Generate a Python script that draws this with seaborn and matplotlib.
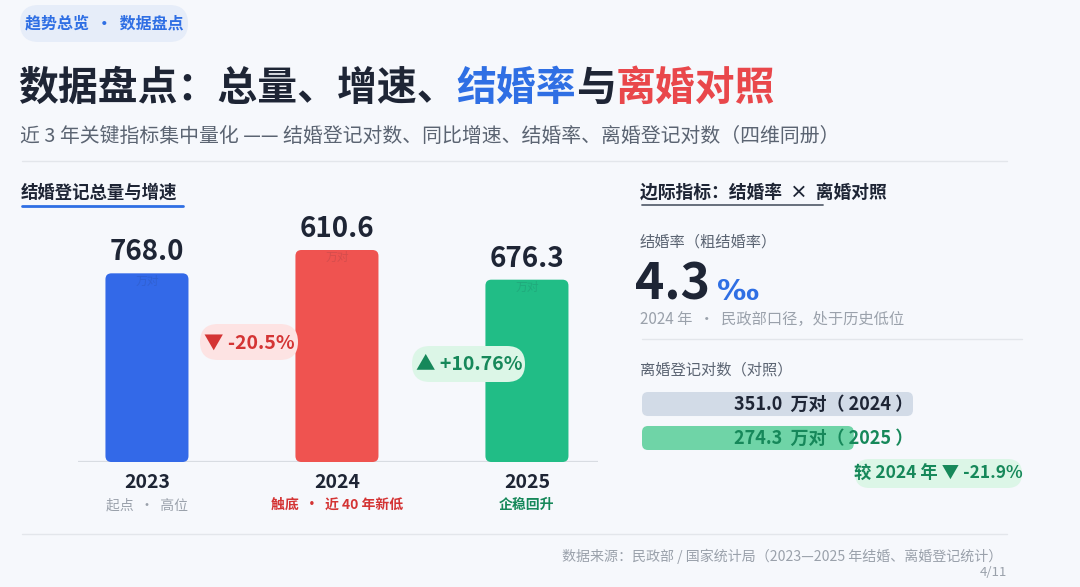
import matplotlib
matplotlib.use('Agg')
import matplotlib.pyplot as plt
from matplotlib.patches import FancyBboxPatch
import seaborn as sns
import pandas as pd

# Dados
anos = ['2023', '2024', '2025']
casamentos = [768.0, 610.6, 676.3]          # 万对
altura_exibida = [89, 100, 86]              # altura das barras como desenhadas no original (% da maior)
notas_ano = ['起点  ·  高位', '触底  ·  近 40 年新低', '企稳回升']
variacao = ['▼ -20.5%', '▲ +10.76%']
taxa_casamento = 4.3                        # ‰
anos_divorcio = ['2024', '2025']
divorcios = [351.0, 274.3]                  # 万对
variacao_divorcio = '较 2024 年 ▼ -21.9%'

# Cores
fundo = '#f6f8fc'
escuro = '#1e2535'
azul = '#2f6fe4'
vermelho = '#e9474b'
cinza = '#5b6472'
cinza_claro = '#9aa1ab'
cores_barras = ['#3369e8', '#ef5350', '#21bd86']
cores_notas = [cinza_claro, '#d43434', '#16885a']
cores_div = ['#d2dbe7', '#6fd4a7']
verde_txt = '#16885a'

sns.set_theme(style='white')
plt.rcParams['font.family'] = ['Noto Sans CJK SC', 'DejaVu Sans']
plt.rcParams['axes.unicode_minus'] = False

W, H = 1080, 587
fig = plt.figure(figsize=(W / 100, H / 100), dpi=100, facecolor=fundo)


def eixo_px(x0, y0, x1, y1):
    # cria eixo a partir de coordenadas em pixels (y para baixo)
    return fig.add_axes([x0 / W, (H - y1) / H, (x1 - x0) / W, (y1 - y0) / H], facecolor='none')


def arredonda(ax, raio_px):
    t0 = ax.transData.transform((0, 0))
    sx = abs(ax.transData.transform((1, 0))[0] - t0[0])
    sy = abs(ax.transData.transform((0, 1))[1] - t0[1])
    for p in list(ax.patches):
        fb = FancyBboxPatch((p.get_x(), p.get_y()), p.get_width(), p.get_height(),
                            boxstyle=f"round,pad=0,rounding_size={raio_px / sx}",
                            mutation_aspect=sx / sy, fc=p.get_facecolor(), ec='none',
                            zorder=p.get_zorder())
        p.set_visible(False)
        ax.add_patch(fb)


# ---------------- grafico de barras (esquerda) ----------------
ax_b = eixo_px(78, 200, 598, 462)
df_b = pd.DataFrame({'ano': anos, 'altura': altura_exibida, 'valor': casamentos})
sns.barplot(data=df_b, x='ano', y='altura', hue='ano', palette=cores_barras,
            width=0.437, saturation=1, legend=False, ax=ax_b)
ax_b.set_xlim(-0.363, 2.374)
ax_b.set_ylim(0, 262 / 2.12)
ax_b.axhline(0, color='#d8dce2', lw=1.6, zorder=0)
ax_b.axis('off')
arredonda(ax_b, 6)

for i, (h, v) in enumerate(zip(altura_exibida, casamentos)):
    ax_b.annotate(f'{v:.1f}', xy=(i, h), xytext=(0, 15), textcoords='offset points',
                  ha='center', va='center', fontsize=20, weight='bold', color=escuro)
    ax_b.annotate('万对', xy=(i, h), xytext=(0, -5.5), textcoords='offset points',
                  ha='center', va='center', fontsize=8.5, color=escuro, alpha=0.12)
    ax_b.annotate(anos[i], xy=(i, 0), xytext=(0, -15), textcoords='offset points',
                  ha='center', va='center', fontsize=14, weight='bold', color=escuro)
    ax_b.annotate(notas_ano[i], xy=(i, 0), xytext=(0, -31), textcoords='offset points',
                  ha='center', va='center', fontsize=10,
                  weight='normal' if i == 0 else 'bold', color=cores_notas[i])

# ---------------- barras horizontais (divorcio) ----------------
ax_h = eixo_px(642, 385, 1022, 457)
df_h = pd.DataFrame({'ano': anos_divorcio, 'valor': divorcios})
sns.barplot(data=df_h, x='valor', y='ano', hue='ano', palette=cores_div, orient='h',
            width=0.706, saturation=1, legend=False, ax=ax_h)
ax_h.set_xlim(0, 380 / 0.772)
ax_h.set_ylim(1.559, -0.559)
ax_h.axis('off')
arredonda(ax_h, 6)
cores_txt_div = [escuro, verde_txt]
for i, v in enumerate(divorcios):
    ax_h.annotate(f'{v:.1f}  万对（ {anos_divorcio[i]} ）', xy=(max(divorcios), i),
                  xytext=(0, 0), textcoords='offset points', ha='right', va='center',
                  fontsize=13, weight='bold', color=cores_txt_div[i])

# ---------------- camada de texto (pixels) ----------------
ax = fig.add_axes([0, 0, 1, 1], facecolor='none', zorder=5)
ax.set_xlim(0, W)
ax.set_ylim(H, 0)
ax.axis('off')
rend = fig.canvas.get_renderer()


def pilula(x0, y0, x1, y1, cor):
    h = y1 - y0
    ax.add_patch(FancyBboxPatch((x0, y0), x1 - x0, h,
                                boxstyle=f"round,pad=0,rounding_size={h / 2}",
                                fc=cor, ec='none', zorder=1))


def texto_rico(x, y, partes, **kw):
    for s, cor, tam in partes:
        t = ax.text(x, y, s, color=cor, fontsize=tam, zorder=3, **kw)
        x += t.get_window_extent(renderer=rend).width
    return x


# etiqueta superior
pilula(20, 5, 188, 42, '#e6edf9')
ax.text(104, 24, '趋势总览  ·  数据盘点', ha='center', va='center', fontsize=11.5,
        weight='bold', color=azul)

# titulo
texto_rico(18, 88, [('数据盘点：总量、增速、', escuro, 28.7), ('结婚率', azul, 28.7),
                    ('与', escuro, 28.7), ('离婚对照', vermelho, 28.7)],
           va='center', weight='bold')
ax.text(20, 136, '近 3 年关键指标集中量化 —— 结婚登记对数、同比增速、结婚率、离婚登记对数（四维同册）',
        va='center', fontsize=14.3, color=cinza)
ax.plot([22, 1007], [161, 161], color='#e3e6eb', lw=1)

# cabecalhos das secoes
ax.text(21, 193, '结婚登记总量与增速', va='center', fontsize=12.5, weight='bold', color=escuro)
ax.plot([22, 183], [206, 206], color=azul, lw=2, solid_capstyle='round')
ax.text(640, 193, '边际指标：结婚率  ×  离婚对照', va='center', fontsize=12.8, weight='bold',
        color=escuro)
ax.plot([642, 823], [205, 205], color='#5b6472', lw=1.3)

# pilulas de variacao
pilula(200, 324, 298, 360, '#fde3e3')
ax.text(249, 343, variacao[0], ha='center', va='center', fontsize=14, weight='bold',
        color='#d43434', zorder=3)
pilula(412, 346, 525, 382, '#dcf6e7')
ax.text(469, 365, variacao[1], ha='center', va='center', fontsize=14, weight='bold',
        color=verde_txt, zorder=3)

# painel direito
ax.text(640, 242, '结婚率（粗结婚率）', va='center', fontsize=11, color=cinza)
texto_rico(635, 285, [(f'{taxa_casamento}', escuro, 36)], va='center', weight='bold')
ax.text(717, 292, '‰', va='center', fontsize=21, weight='bold', color=azul,
        family=['DejaVu Sans'])
ax.text(640, 319, '2024 年  ·  民政部口径，处于历史低位', va='center', fontsize=11,
        color=cinza_claro)
ax.plot([642, 1022], [339, 339], color='#e3e6eb', lw=1)
ax.text(640, 370, '离婚登记对数（对照）', va='center', fontsize=11, color=cinza)

pilula(855, 459, 1022, 488, '#dcf6e7')
ax.text(938, 474, variacao_divorcio, ha='center', va='center', fontsize=12.5,
        weight='bold', color=verde_txt, zorder=3)

# rodape
ax.plot([22, 1007], [534, 534], color='#e3e6eb', lw=1)
ax.text(1002, 556, '数据来源：民政部 / 国家统计局（2023—2025 年结婚、离婚登记统计）',
        ha='right', va='center', fontsize=10.1, color=cinza_claro)
ax.text(1007, 572, '4/11', ha='right', va='center', fontsize=9.5, color=cinza_claro)

fig.savefig('out.png', dpi=100, facecolor=fundo)
